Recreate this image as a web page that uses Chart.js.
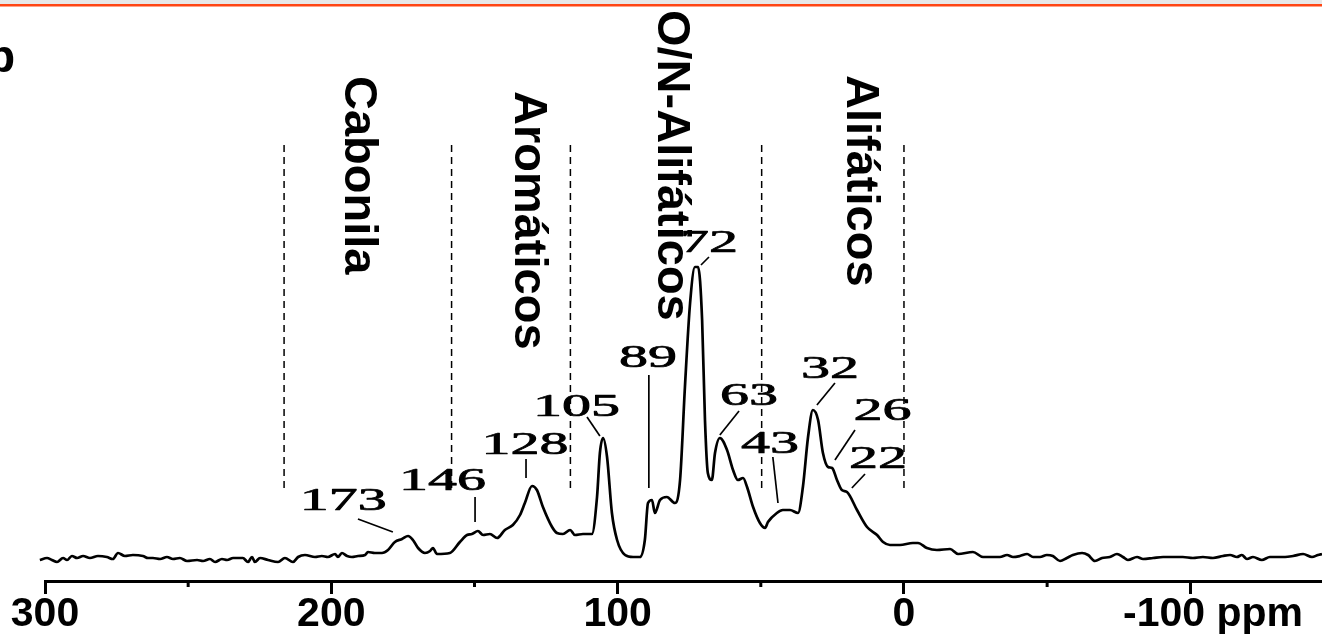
<!DOCTYPE html>
<html><head><meta charset="utf-8">
<script src="https://cdn.jsdelivr.net/npm/chart.js@4"></script>
<style>html,body{margin:0;padding:0;background:#fff;overflow:hidden}canvas{display:block}</style>
</head><body>
<canvas id="c" width="1322" height="638"></canvas>
<script>
// ---- data ----
const ppmLow = [301.8,299.3,297.6,295.8,293.7,292.3,290.6,288.8,286.7,284.3,281.5,278.4,276.3,274.5,272.1,269.3,265.8,264.0,262.3,259.8,257.4,255.3,252.9,250.4,246.9,244.8,242.4,240.6,238.2,236.4,234.3,230.9,229.1,227.7,226.7,224.9,222.1,218.6,216.2,213.4,211.6,209.2,205.7,203.3,201.2,198.7,197.7,196.3,194.5,192.8,190.7,188.2,187.2,184.8,182.3,180.2,177.8,175.3,173.2,171.5,169.7,167.3,165.5,164.5];
const intensityLow = [21,23,21,19,23,21,25,23,25,23,25,24,22,28,25,26,25,23,23,22,24,22,23,20,21,20,22,19,22,21,23,23,19,24,19,23,21,19,23,19,24,26,24,25,24,27,24,28,25,24,25,26,29,28,28,31,39,42,45,41,33,28,30,33];
const ppmMid = [163.1,158.6,155.1,152.6,150.9,148.8,147.0,144.6,142.1,139.4,136.6,134.1,132.4,129.9,128.2,126.1,122.9,121.2,119.1,116.6,114.9,112.1,109.0,107.2,106.2,105.1,103.7,102.0,100.2,97.4,94.6,92.2,90.5,89.4,88.0,87.0,85.2,82.8,80.0,78.2,76.5,74.7,73.0,71.9,70.5,69.5,68.5,67.1,66.0,64.3,61.8,59.7,58.0,56.2,54.8,52.7,50.3,48.5,47.5,44.4,42.3,39.8,37.0,35.3,33.5,31.8,30.0,28.3,26.5,25.1,23.4,21.7,19.9,16.4,12.9,9.4,7.3,4.9,1.4,-3.1,-4.9,-8.0,-11.5,-16.1,-18.9,-24.1,-27.6];
const intensityMid = [27,28,39,46,47,50,46,47,43,51,56,66,78,95,91,74,54,48,47,51,46,47,47,84,128,143,124,68,41,26,24,24,41,78,81,68,81,84,78,101,194,278,314,314,261,161,108,101,128,143,131,111,101,103,94,74,58,53,59,68,71,71,68,94,144,171,161,128,114,113,101,91,89,71,54,46,39,36,36,38,38,33,31,32,27,29,24];
const ppmHigh = [-33.5,-36.0,-38.1,-40.5,-43.0,-45.1,-47.5,-49.9,-52.0,-54.5,-56.9,-59.0,-62.2,-64.3,-66.7,-69.2,-71.9,-74.4,-76.5,-78.2,-81.4,-83.5,-87.0,-90.5,-93.9,-97.4,-100.9,-104.4,-107.9,-111.4,-113.9,-116.3,-118.0,-119.8,-121.9,-125.0,-127.8,-130.3,-133.1,-135.9,-139.4,-142.5,-144.6,-146.0];
const intensityHigh = [24,26,24,25,27,24,24,26,25,20,23,26,28,26,20,23,24,27,24,21,24,22,23,24,24,24,23,24,23,25,26,24,26,22,24,21,24,24,24,25,27,24,26,27];
const ppm = [...ppmLow, ...ppmMid, ...ppmHigh];
const intensity = [...intensityLow, ...intensityMid, ...intensityHigh];

const majorTicks = [300,200,100,0,-100];
const majorTickLabels = ['300','200','100','0','-100 ppm'];
const minorTicks = [250,150,50,-50];
const regionNames = ['Cabonila','Aromáticos','O/N-Alifáticos','Alifáticos'];
const regionBounds = [216.5,158,116.5,49.7,0];
const peakLabels = ['173','146','128','105','89','72','63','43','32','26','22'];
const panelLetter = 'b';

// ---- annotation placement (in data units: ppm, intensity) ----
const regionLabelPos = [[195.2,505],[135.9,490],[85.9,571],[19.9,506]];
const dashRange = [92,436];
const peakLabelPos = [[195.8,71],[161.2,91],[132.4,127],[114.4,165],[89.4,214],[68.1,329],[54.1,176],[46.8,128],[25.8,203],[7.5,161],[9.1,113]];
const leaderLines = [[190.7,62,178.5,49],[149.8,84,149.8,59],[132,122,132,103],[110.7,164,106.2,145],[89.1,206,89.1,93],[68.1,324,70.9,316],[57.6,170,64.3,146],[45.8,124,44.0,78],[24.1,198,30.4,176],[17.1,151,24.1,121],[13.6,107,18.2,93]];
const letterPos = [320.3,509];

const allTicks = [...majorTicks, ...minorTicks].sort((a,b)=>b-a);

const annot = {
  id:'annot',
  beforeDraw(chart){
    const c = chart.ctx; c.save();
    c.fillStyle = '#e8e8e8'; c.fillRect(0,0,chart.width,4);
    c.fillStyle = '#ff4614'; c.fillRect(0,4,chart.width,2.5);
    c.restore();
  },
  afterDraw(chart){
    const c = chart.ctx, xs = chart.scales.x, ys = chart.scales.y;
    const X = v => xs.getPixelForValue(v), Y = v => ys.getPixelForValue(v);
    c.save();
    c.strokeStyle = '#000'; c.lineWidth = 3;
    const axisY = chart.chartArea.bottom;
    minorTicks.forEach(v => { c.beginPath(); c.moveTo(X(v), axisY); c.lineTo(X(v), axisY + 6); c.stroke(); });
    c.lineWidth = 1.5; c.setLineDash([7,5]);
    regionBounds.forEach(v => { c.beginPath(); c.moveTo(X(v), Y(dashRange[1])); c.lineTo(X(v), Y(dashRange[0])); c.stroke(); });
    c.setLineDash([]);
    c.lineWidth = 1.7;
    leaderLines.forEach(l => { c.beginPath(); c.moveTo(X(l[0]), Y(l[1])); c.lineTo(X(l[2]), Y(l[3])); c.stroke(); });
    c.fillStyle = '#000';
    c.font = '31px "Liberation Serif", "Times New Roman", serif';
    c.textAlign = 'center'; c.textBaseline = 'alphabetic';
    c.lineWidth = 0.7; c.lineJoin = 'round';
    peakLabels.forEach((t,i) => {
      const w = c.measureText(t).width;
      const sx = (29 * t.length) / w;
      c.save(); c.translate(X(peakLabelPos[i][0]), Y(peakLabelPos[i][1])); c.scale(sx,1);
      c.fillText(t,0,0); c.strokeText(t,0,0); c.restore();
    });
    c.font = 'bold 47px "Liberation Sans", Arial, sans-serif';
    c.textAlign = 'left';
    regionNames.forEach((t,i) => {
      c.save(); c.translate(X(regionLabelPos[i][0]), Y(regionLabelPos[i][1])); c.rotate(Math.PI/2); c.fillText(t,0,0); c.restore();
    });
    c.font = 'bold 46px "Liberation Sans", Arial, sans-serif';
    c.fillText(panelLetter, X(letterPos[0]), Y(letterPos[1]));
    c.restore();
  }
};

new Chart(document.getElementById('c'), {
  type: 'line',
  data: { datasets: [{ data: ppm.map((x,i) => ({x, y: intensity[i]})), borderColor:'#000', borderWidth:2.7,
    pointRadius:0, cubicInterpolationMode:'monotone', fill:false, clip:6 }] },
  options: {
    responsive:false, animation:false, devicePixelRatio:1,
    layout:{ padding:{ left:45, right:0, top:0, bottom:0 } },
    plugins:{ legend:{display:false}, tooltip:{enabled:false} },
    scales:{
      x:{
        type:'linear', reverse:true, min:-146, max:300,
        afterBuildTicks: s => { s.ticks = allTicks.map(v => ({value:v})); },
        afterFit: s => { s.height = 57; },
        border:{ display:true, color:'#000', width:3 },
        grid:{ drawOnChartArea:false, drawTicks:true, tickLength:13, tickWidth:3,
          tickColor: ctx => (ctx.tick && majorTicks.includes(ctx.tick.value)) ? '#000' : 'rgba(0,0,0,0)' },
        ticks:{ autoSkip:false, maxRotation:0, minRotation:0, padding:0, color:'#000',
          font:{ family:'"Liberation Sans", Arial, sans-serif', size:41, weight:'bold', lineHeight:1 },
          callback: v => { const i = majorTicks.indexOf(v); if (i < 0) return ''; const l = majorTickLabels[i]; return l.indexOf(' ') >= 0 ? '\u00a0\u00a0\u00a0\u00a0' + l : l; } }
      },
      y:{ display:false, min:0, max:581 }
    }
  },
  plugins:[annot]
});
</script>
</body></html>
